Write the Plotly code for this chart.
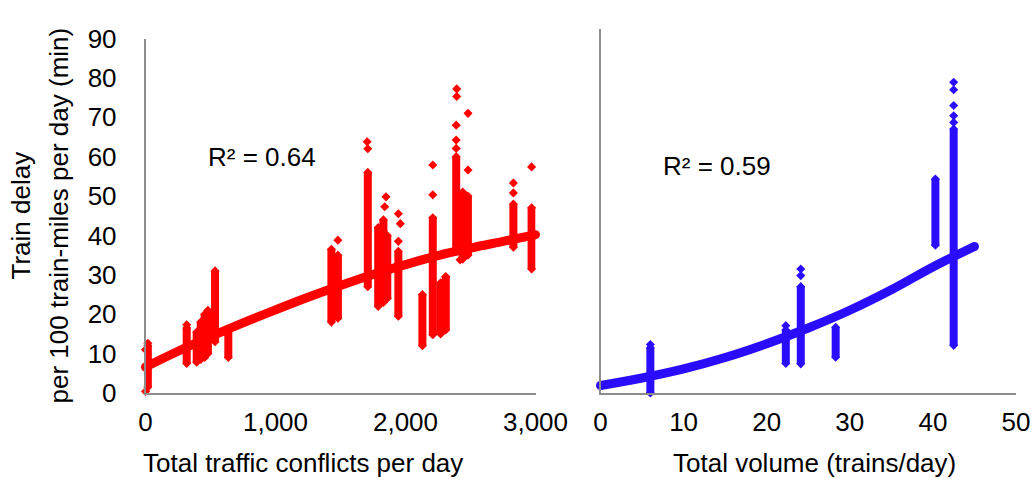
import plotly.graph_objects as go

# ---------------- data ----------------
# Left panel: total traffic conflicts per day vs train delay
left_stack_x = [0, 18, 317, 394, 425, 455, 480, 535, 637, 1430, 1480, 1710,
                1790, 1830, 1860, 1945, 2130, 2210, 2270, 2310, 2390, 2440,
                2480, 2830, 2970]
left_stack_lo = [0.4, 1.5, 7.5, 7.8, 8.5, 9.0, 10.0, 13.0, 9.0, 18.0, 19.0,
                 27.0, 22.0, 23.0, 24.0, 19.5, 12.0, 14.8, 15.0, 16.0, 36.0,
                 34.0, 35.0, 37.0, 31.5]
left_stack_hi = [11.0, 12.0, 16.5, 15.5, 18.0, 20.0, 21.0, 31.0, 15.6, 36.5,
                 35.0, 56.0, 42.0, 44.0, 40.0, 36.0, 25.0, 44.5, 28.0, 29.5,
                 60.0, 51.0, 50.0, 48.0, 47.0]
left_out_x = [18, 317, 1480, 1710, 1705, 1850, 1840, 1945, 1960, 1945, 2210,
              2210, 2390, 2390, 2390, 2394, 2394, 2481, 2481, 2420, 2830, 2830,
              2970, 2310]
left_out_y = [12.6, 17.3, 38.8, 62.0, 63.8, 49.8, 47.3, 45.5, 43.0, 38.5, 50.3,
              57.9, 62.1, 64.2, 68.0, 75.3, 77.2, 71.0, 56.6, 33.8, 50.8, 53.3,
              57.4, 29.5]
left_trend_x = [0, 250, 500, 750, 1000, 1250, 1500, 1750, 2000, 2250, 2500,
                2750, 3000]
left_trend_y = [6.6, 10.6, 14.3, 17.8, 21.1, 24.3, 27.3, 30.1, 32.6, 34.9,
                36.8, 38.5, 40.2]

# Right panel: total volume (trains/day) vs train delay
right_stack_x = [6.0, 22.3, 24.1, 28.3, 40.3, 42.5]
right_stack_lo = [0.0, 7.5, 7.4, 9.1, 37.5, 12.1]
right_stack_hi = [11.5, 16.0, 27.0, 16.7, 54.3, 67.0]
right_out_x = [6.0, 22.3, 24.1, 24.1, 42.5, 42.5, 42.5, 42.5, 42.5]
right_out_y = [12.3, 17.1, 29.8, 31.5, 68.7, 70.4, 73.0, 77.0, 78.9]
right_trend_x = [0, 5, 10, 15, 20, 25, 30, 35, 40, 45]
right_trend_y = [1.9, 3.8, 6.1, 9.0, 12.5, 16.5, 21.0, 26.2, 32.0, 37.2]

left_ticks = [0, 1000, 2000, 3000]
left_ticktext = ["0", "1,000", "2,000", "3,000"]
right_ticks = [0, 10, 20, 30, 40, 50]
y_ticks = [0, 10, 20, 30, 40, 50, 60, 70, 80, 90]

RED = "#FF0000"
BLUE = "#2A0DFF"
FONT = "Liberation Sans, Arial, sans-serif"
FS = 26
AXIS_COL = "#8C8C8C"


def stacks(xs, lo, hi):
    X, Y = [], []
    for x, a, b in zip(xs, lo, hi):
        X += [x, x, None]
        Y += [a, b, None]
    return X, Y


fig = go.Figure()

for (sx, slo, shi, ox, oy, tx, ty, col, xa, ya) in [
    (left_stack_x, left_stack_lo, left_stack_hi, left_out_x, left_out_y,
     left_trend_x, left_trend_y, RED, "x", "y"),
    (right_stack_x, right_stack_lo, right_stack_hi, right_out_x, right_out_y,
     right_trend_x, right_trend_y, BLUE, "x2", "y2"),
]:
    X, Y = stacks(sx, slo, shi)
    fig.add_trace(go.Scatter(x=X, y=Y, mode="lines+markers", xaxis=xa, yaxis=ya,
                             line=dict(color=col, width=8),
                             marker=dict(symbol="diamond", size=7, color=col),
                             cliponaxis=False, showlegend=False, hoverinfo="skip"))
    fig.add_trace(go.Scatter(x=ox, y=oy, mode="markers", xaxis=xa, yaxis=ya,
                             marker=dict(symbol="diamond", size=7, color=col),
                             cliponaxis=False, showlegend=False))
    fig.add_trace(go.Scatter(x=tx, y=ty, mode="lines", xaxis=xa, yaxis=ya,
                             line=dict(color=col, width=9, shape="spline"),
                             cliponaxis=False, showlegend=False))
    fig.add_trace(go.Scatter(x=[tx[0], tx[-1]], y=[ty[0], ty[-1]], mode="markers",
                             xaxis=xa, yaxis=ya,
                             marker=dict(symbol="circle", size=9, color=col),
                             cliponaxis=False, showlegend=False))

W, H = 1035, 479
L_x0, L_x1 = 145.5, 535.5
R_x0, R_x1 = 600.5, 1016.0
Y_bot, Y_top_L, Y_top_R = 393.0, 38.5, 28.5
scale = (Y_bot - Y_top_L) / 90.0
right_ymax = (Y_bot - Y_top_R) / scale

axis_common = dict(showgrid=False, zeroline=False, showline=True,
                   linecolor=AXIS_COL, linewidth=1.5, ticks="",
                   automargin=False,
                   tickfont=dict(family=FONT, size=FS, color="#000000"))

fig.update_layout(
    width=W, height=H,
    margin=dict(l=0, r=0, t=0, b=0, autoexpand=False),
    paper_bgcolor="white", plot_bgcolor="white",
    font=dict(family=FONT, size=FS, color="#000000"),
    xaxis=dict(domain=[L_x0 / W, L_x1 / W], range=[0, 3000],
               tickvals=left_ticks, ticktext=left_ticktext,
               anchor="y", ticklabelstandoff=5, **axis_common),
    yaxis=dict(domain=[(H - Y_bot) / H, (H - Y_top_L) / H], range=[0, 90],
               tickvals=y_ticks, anchor="x", ticklabelstandoff=22, **axis_common),
    xaxis2=dict(domain=[R_x0 / W, R_x1 / W], range=[0, 50],
                tickvals=right_ticks, anchor="y2", ticklabelstandoff=5,
                **axis_common),
    yaxis2=dict(domain=[(H - Y_bot) / H, (H - Y_top_R) / H],
                range=[0, right_ymax], showticklabels=False, anchor="x2",
                **axis_common),
    showlegend=False,
)

ann = [
    dict(text="R² = 0.64", x=896, y=59.8, xref="x", yref="y"),
    dict(text="R² = 0.59", x=14.0, y=57.6, xref="x2", yref="y2"),
    dict(text="Train delay", x=21 / W, y=(H - 215.5) / H, xref="paper",
         yref="paper", textangle=-90),
    dict(text="per 100 train-miles per day (min)", x=59 / W, y=(H - 215.5) / H,
         xref="paper", yref="paper", textangle=-90),
    dict(text="Total traffic conflicts per day", x=303 / W, y=(H - 463) / H,
         xref="paper", yref="paper"),
    dict(text="Total volume (trains/day)", x=814 / W, y=(H - 463) / H,
         xref="paper", yref="paper"),
]
for a in ann:
    fig.add_annotation(showarrow=False, xanchor="center", yanchor="middle",
                       font=dict(family=FONT, size=FS, color="#000000"), **a)

fig.write_html("out.html")
